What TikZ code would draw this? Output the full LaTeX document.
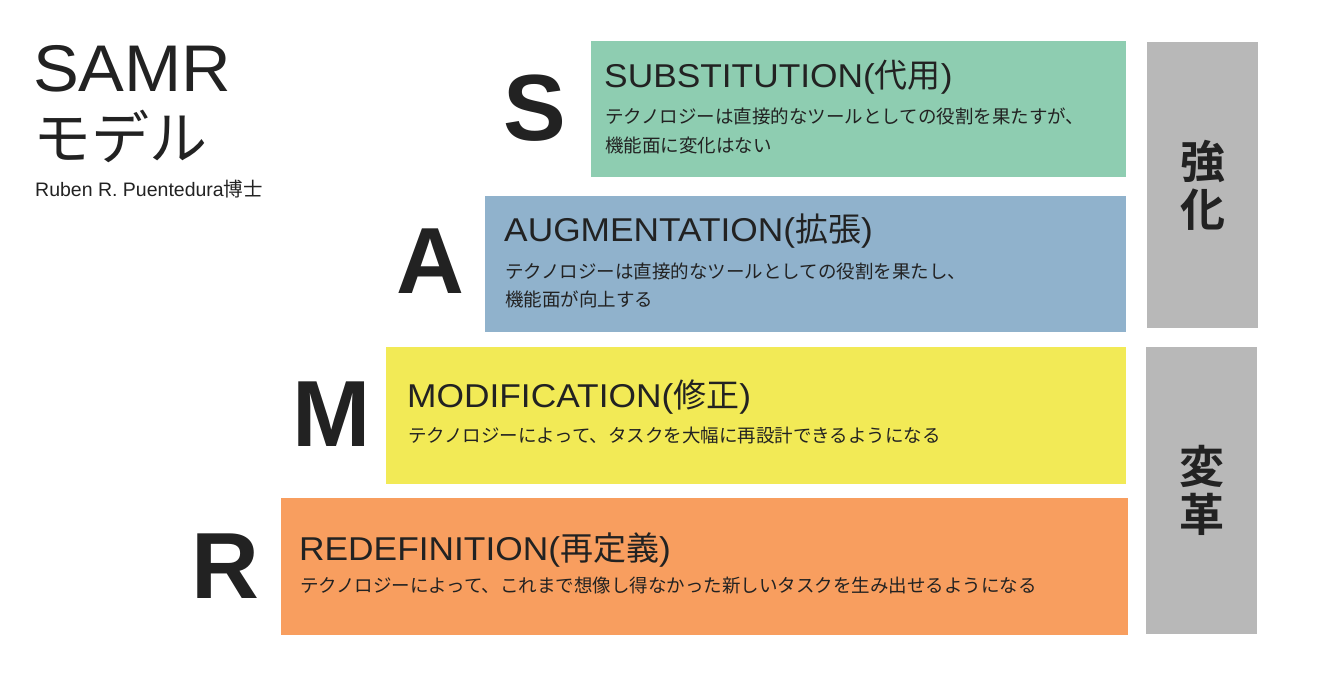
\documentclass[tikz,border=0pt]{standalone}
\usepackage{fontspec}
\setmainfont{Noto Sans CJK JP}[BoldFont={Noto Sans CJK JP Bold}]
\newfontfamily\latinfont{Liberation Sans}
\newfontfamily\headfont{Liberation Sans}[FakeStretch=1.04]
\newfontfamily\titlefont{Liberation Sans}[FakeStretch=1.07]
\usetikzlibrary{positioning}
\definecolor{ink}{HTML}{222222}
\definecolor{sgreen}{HTML}{8ECDB1}
\definecolor{ablue}{HTML}{90B2CC}
\definecolor{myellow}{HTML}{F2EA56}
\definecolor{rorange}{HTML}{F89E5F}
\definecolor{sidegray}{HTML}{B8B8B8}
% title: Latin name, then the Japanese word in half-width parentheses
\newcommand{\leveltitle}[2]{{\titlefont #1(}#2{\titlefont )}}

\begin{document}
\begin{tikzpicture}[x=1pt, y=-1pt,
    box/.style={anchor=north west, inner sep=0pt},
    letter/.style={inner sep=0pt, text=ink, font=\latinfont\bfseries\fontsize{94}{94}\selectfont},
    title/.style={anchor=base west, inner sep=0pt, text=ink, font=\fontsize{33}{33}\selectfont},
    desc/.style={anchor=west, inner sep=0pt, text=ink, font=\fontsize{18.5}{18.5}\selectfont},
    sidebox/.style={box, fill=sidegray, minimum width=111pt, align=center, text=ink,
        font=\bfseries\fontsize{45}{48}\selectfont}]
    \useasboundingbox (0,0) rectangle (1318,682);
    % Heading
    \node[anchor=west, inner sep=0pt, text=ink, font=\headfont\fontsize{66}{66}\selectfont] (samr) at (33,68.5) {SAMR};
    \node[anchor=west, inner sep=0pt, text=ink, font=\fontsize{58}{58}\selectfont] (model) at (33,136) {モデル};
    \node[anchor=west, inner sep=0pt, text=ink, font=\fontsize{19.5}{19.5}\selectfont] (author) at (35,189) {{\latinfont Ruben R. Puentedura}博士};
    % Level boxes
    \node[box, fill=sgreen, minimum width=535pt, minimum height=136pt] (sbox) at (591,41) {};
    \node[box, fill=ablue, minimum width=641pt, minimum height=136pt] (abox) at (485,196) {};
    \node[box, fill=myellow, minimum width=740pt, minimum height=137pt] (mbox) at (386,347) {};
    \node[box, fill=rorange, minimum width=847pt, minimum height=137pt] (rbox) at (281,498) {};
    % Big letters
    \node[letter] (sletter) at (535,108) {S};
    \node[letter] (aletter) at (430,261.5) {A};
    \node[letter] (mletter) at (332,414) {M};
    \node[letter] (rletter) at (225,566.5) {R};
    % Texts
    \node[title] (stitle) at (604,88) {\leveltitle{SUBSTITUTION}{代用}};
    \node[desc] (sdesc1) at (605,116.5) {テクノロジーは直接的なツールとしての役割を果たすが、};
    \node[desc] (sdesc2) at (605,145) {機能面に変化はない};
    \node[title] (atitle) at (504,241) {\leveltitle{AUGMENTATION}{拡張}};
    \node[desc] (adesc1) at (505,271) {テクノロジーは直接的なツールとしての役割を果たし、};
    \node[desc] (adesc2) at (505,299) {機能面が向上する};
    \node[title] (mtitle) at (407,407) {\leveltitle{MODIFICATION}{修正}};
    \node[desc] (mdesc) at (408,435) {テクノロジーによって、タスクを大幅に再設計できるようになる};
    \node[title] (rtitle) at (299,560) {\leveltitle{REDEFINITION}{再定義}};
    \node[desc] (rdesc) at (300,586) {テクノロジーによって、これまで想像し得なかった新しいタスクを生み出せるようになる};
    % Side bars
    \node[sidebox, minimum height=286pt] (enhance) at (1147,42) {強\\化};
    \node[sidebox, minimum height=287pt] (transform) at (1146,347) {変\\革};
\end{tikzpicture}
\end{document}
